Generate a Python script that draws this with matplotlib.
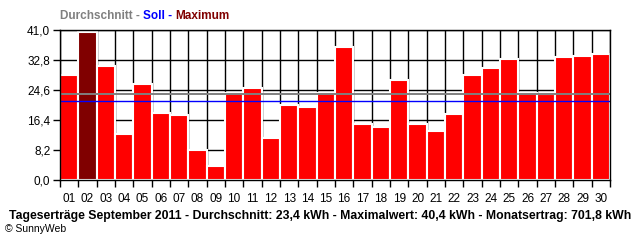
import matplotlib
matplotlib.use("Agg")
import matplotlib.pyplot as plt
import numpy as np

days = ["01","02","03","04","05","06","07","08","09","10","11","12","13","14","15",
        "16","17","18","19","20","21","22","23","24","25","26","27","28","29","30"]
values = [28.7, 40.4, 31.2, 12.6, 26.2, 18.3, 17.8, 8.2, 3.8, 23.8, 25.1, 11.5, 20.5, 20.0, 23.8,
          36.4, 15.3, 14.5, 27.3, 15.3, 13.4, 18.0, 28.7, 30.6, 33.1, 23.8, 23.5, 33.6, 33.9, 34.4]
average = 23.4
target = 21.5
yticks = [0.0, 8.2, 16.4, 24.6, 32.8, 41.0]
ytick_labels = ["0,0", "8,2", "16,4", "24,6", "32,8", "41,0"]
caption = "Tageserträge September 2011 - Durchschnitt: 23,4 kWh - Maximalwert: 40,4 kWh - Monatsertrag: 701,8 kWh"

plt.rcParams['font.family'] = ['Liberation Sans', 'DejaVu Sans']

fig = plt.figure(figsize=(6.4, 2.4), dpi=100)
ax = fig.add_axes([60/640, 60/240, 550/640, 150/240])

x = np.arange(len(values))
maxi = int(np.argmax(values))
colors = ["#ff0000"] * len(values)
colors[maxi] = "#800000"
ax.bar(x, values, width=1.0, color=colors, edgecolor="white", linewidth=1.5, zorder=3)

ax.axhline(average, color="#808080", linewidth=1.4, zorder=4)
ax.axhline(target, color="#0000ff", linewidth=1.0, zorder=4)

ax.set_xlim(-0.5, len(values) - 0.5)
ax.set_ylim(0, 41.0)
ax.set_yticks(yticks)
ax.set_yticklabels(ytick_labels)
ax.set_xticks(np.arange(len(values) + 1) - 0.5)
ax.set_xticklabels([])
ax.set_xticks(x, minor=True)
ax.set_xticklabels(days, minor=True)
ax.tick_params(axis='x', which='major', length=5, width=1, direction='out', color='black')
ax.tick_params(axis='x', which='minor', length=0, pad=9, labelsize=8.5)
ax.tick_params(axis='y', length=5, width=1, direction='out', labelsize=8.5, pad=2)
ax.grid(True, which='major', color='black', linewidth=1.0, zorder=0)
ax.set_axisbelow(True)
for s in ax.spines.values():
    s.set_color('black')
    s.set_linewidth(1.0)
    s.set_zorder(5)

renderer = fig.canvas.get_renderer()
parts = [("Durchschnitt - ", "#808080"), ("Soll - ", "#0000ff"), ("Maximum", "#800000")]
prefix = ""
for txt, col in parts:
    if prefix:
        probe = fig.text(0, 0, prefix + "|", fontsize=8.5, fontweight='bold')
        bar_probe = fig.text(0, 0, "|", fontsize=8.5, fontweight='bold')
        w = probe.get_window_extent(renderer=renderer).width - bar_probe.get_window_extent(renderer=renderer).width
        probe.remove()
        bar_probe.remove()
    else:
        w = 0
    fig.text((60 + w)/640, 1 - 16/240, txt, color=col, fontsize=8.5, fontweight='bold', va='center', ha='left')
    prefix += txt

fig.text(320/640, 1 - 216/240, caption, fontsize=8.8, fontweight='bold', ha='center', va='center', color='black')
fig.text(5/640, 1 - 229/240, "© SunnyWeb", fontsize=7.5, ha='left', va='center', color='black')

fig.savefig("out.png", dpi=100)
